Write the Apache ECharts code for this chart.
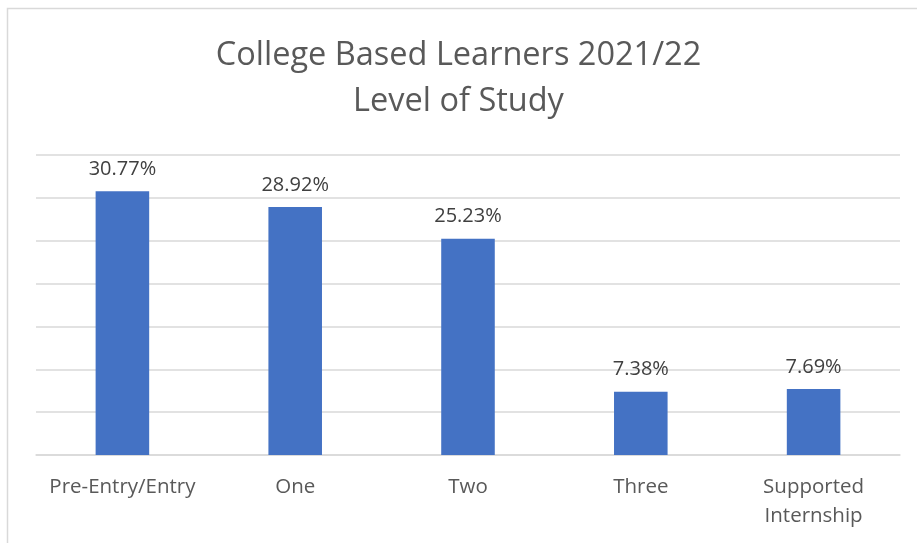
<!DOCTYPE html>
<html>
<head>
<meta charset="utf-8">
<script src="https://cdn.jsdelivr.net/npm/echarts@6/dist/echarts.min.js"></script>
<style>
    html, body { margin: 0; padding: 0; background: #fff; }
    #chart { width: 917px; height: 543px; }
</style>
</head>
<body>
<div id="chart"></div>
<script>
// Chart data
const categories = ['Pre-Entry/Entry', 'One', 'Two', 'Three', 'Supported\nInternship'];
const shares = [30.77, 28.92, 25.23, 7.38, 7.69];

const chart = echarts.init(document.getElementById('chart'));

chart.setOption({
    animation: false,
    textStyle: { fontFamily: 'Open Sans' },
    graphic: [{
        type: 'rect',
        shape: { x: 7.5, y: 8.5, width: 1000, height: 1000 },
        style: { fill: 'none', stroke: '#d9d9d9', lineWidth: 1.5 },
        silent: true
    }],
    title: {
        text: 'College Based Learners 2021/22\nLevel of Study',
        left: 'center',
        top: 28,
        textStyle: {
            fontFamily: 'Open Sans',
            fontSize: 32.5,
            fontWeight: 'normal',
            color: '#595959',
            lineHeight: 46
        }
    },
    grid: { left: 36, right: 17, top: 155, bottom: 88 },
    xAxis: {
        type: 'category',
        data: categories,
        axisLine: { lineStyle: { color: '#d9d9d9', width: 1.5 } },
        axisTick: { show: false },
        axisLabel: {
            interval: 0,
            color: '#595959',
            fontSize: 20.5,
            margin: 18,
            lineHeight: 29
        }
    },
    yAxis: {
        type: 'value',
        min: 0,
        max: 35,
        interval: 5,
        axisLabel: { show: false },
        axisLine: { show: false },
        axisTick: { show: false },
        splitLine: { lineStyle: { color: '#d9d9d9', width: 1.5 } }
    },
    series: [{
        type: 'bar',
        data: shares,
        barWidth: '31%',
        itemStyle: { color: '#4472c4' },
        label: {
            show: true,
            position: 'top',
            distance: 12,
            color: '#404040',
            fontSize: 20,
            formatter: p => p.value.toFixed(2) + '%'
        }
    }]
});
</script>
</body>
</html>
